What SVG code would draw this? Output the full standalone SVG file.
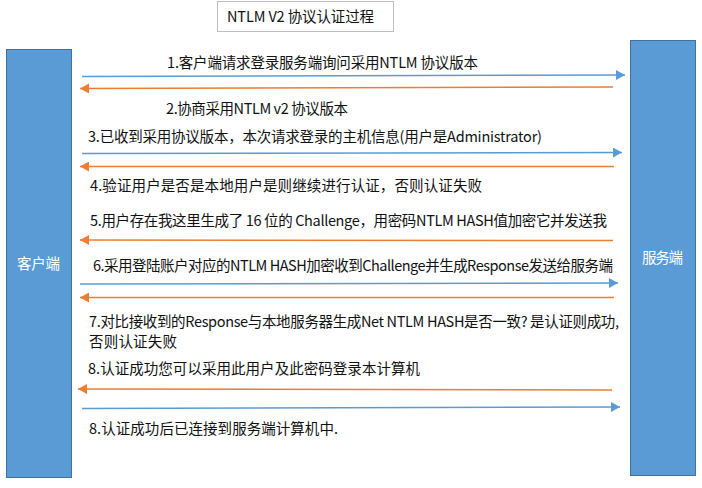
<svg xmlns="http://www.w3.org/2000/svg" width="702" height="488" viewBox="0 0 702 488">
<defs>
<style>
.box{fill:#5B9BD5;stroke:#41719C;stroke-width:1}
.title{fill:#fff;stroke:#BFBFBF;stroke-width:1}
.t{font-family:"Noto Sans CJK SC","Microsoft YaHei",sans-serif;font-size:14.5px;fill:#111}
.w{font-family:"Noto Sans CJK SC","Microsoft YaHei",sans-serif;font-size:14.5px;fill:#fff}
.blue{stroke:#5B9BD5;stroke-width:1.5;fill:none;marker-end:url(#ab)}
.orange{stroke:#ED7D31;stroke-width:1.5;fill:none;marker-end:url(#ao)}
</style>
<marker id="ab" markerUnits="userSpaceOnUse" markerWidth="9" markerHeight="10" refX="9" refY="5" orient="auto"><path d="M0,0 L9,5 L0,10 z" fill="#5B9BD5"/></marker>
<marker id="ao" markerUnits="userSpaceOnUse" markerWidth="9" markerHeight="10" refX="9" refY="5" orient="auto"><path d="M0,0 L9,5 L0,10 z" fill="#ED7D31"/></marker>
</defs>
<rect width="702" height="488" fill="#fff"/>
<g id="title">
<rect class="title" x="217.5" y="1.5" width="176" height="30"/>
<text class="t" x="227" y="21.5" textLength="147">NTLM V2 协议认证过程</text>
</g>
<g id="client">
<rect class="box" x="6.5" y="49.5" width="65" height="428"/>
<text class="w" x="17" y="269" textLength="43">客户端</text>
</g>
<g id="server">
<rect class="box" x="630.5" y="40.5" width="65" height="435"/>
<text class="w" x="642" y="262.5" textLength="41">服务端</text>
</g>
<g id="connectors">
<line class="blue" x1="82" y1="76.5" x2="625" y2="75"/>
<line class="orange" x1="613" y1="87" x2="80" y2="88.5"/>
<line class="blue" x1="82" y1="153.5" x2="622" y2="152.5"/>
<line class="orange" x1="614" y1="166.5" x2="80" y2="166.5"/>
<line class="orange" x1="613" y1="240.5" x2="80" y2="240"/>
<line class="blue" x1="80" y1="284" x2="618" y2="283"/>
<line class="orange" x1="614" y1="297.5" x2="80" y2="297.5"/>
<line class="orange" x1="612" y1="390" x2="78" y2="389"/>
<line class="blue" x1="82" y1="408.5" x2="620" y2="407"/>
</g>
<g id="labels">
<text class="t" x="167" y="68" textLength="311">1.客户端请求登录服务端询问采用NTLM 协议版本</text>
<text class="t" x="166" y="114" textLength="182">2.协商采用NTLM v2 协议版本</text>
<text class="t" x="88" y="142" textLength="454">3.已收到采用协议版本，本次请求登录的主机信息(用户是Administrator)</text>
<text class="t" x="90" y="190.5" textLength="392">4.验证用户是否是本地用户是则继续进行认证，否则认证失败</text>
<text class="t" x="90" y="225.5" textLength="517">5.用户存在我这里生成了 16 位的 Challenge，用密码NTLM HASH值加密它并发送我</text>
<text class="t" x="93" y="270.5" textLength="520">6.采用登陆账户对应的NTLM HASH加密收到Challenge并生成Response发送给服务端</text>
<text class="t" x="89" y="327" textLength="530">7.对比接收到的Response与本地服务器生成Net NTLM HASH是否一致? 是认证则成功,</text>
<text class="t" x="89" y="347" textLength="88">否则认证失败</text>
<text class="t" x="88" y="374" textLength="332">8.认证成功您可以采用此用户及此密码登录本计算机</text>
<text class="t" x="89" y="434" textLength="249">8.认证成功后已连接到服务端计算机中.</text>
</g>
</svg>
